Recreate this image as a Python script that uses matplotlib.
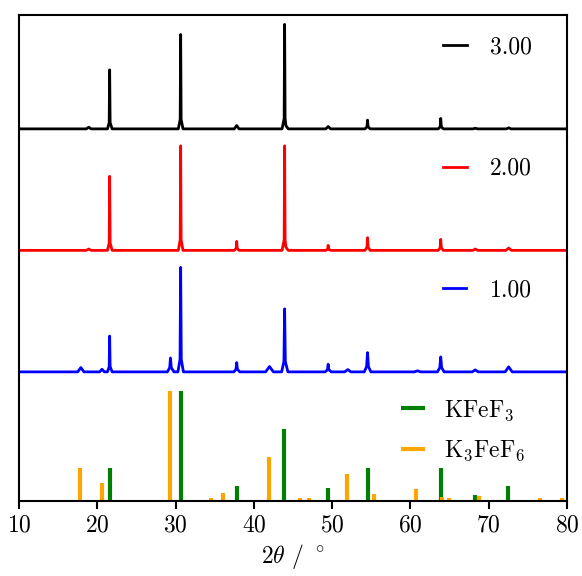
import numpy as np
import matplotlib
matplotlib.use('Agg')
import matplotlib.pyplot as plt

plt.rcParams['font.family'] = 'serif'
plt.rcParams['font.serif'] = ['cmr10']
plt.rcParams['mathtext.fontset'] = 'cm'
plt.rcParams['axes.formatter.use_mathtext'] = True
plt.rcParams['font.size'] = 17

# measured patterns, normalised to the strongest reflection (2theta, I)
pattern_300 = [
    (10.0, 0), (18.6, 0), (18.92, 0.016), (19.2, 0),
    (21.3, 0), (21.52, 0.06), (21.58, 0.565), (21.64, 0.06), (21.9, 0),
    (30.35, 0), (30.59, 0.09), (30.65, 0.903), (30.71, 0.09), (30.95, 0),
    (37.5, 0), (37.81, 0.032), (38.1, 0),
    (43.6, 0), (43.87, 0.1), (43.93, 1.0), (43.99, 0.1), (44.1, 0.03), (44.4, 0),
    (49.2, 0), (49.49, 0.023), (49.8, 0),
    (54.2, 0), (54.45, 0.02), (54.52, 0.084), (54.6, 0.02), (54.85, 0),
    (63.55, 0), (63.8, 0.02), (63.87, 0.1), (63.95, 0.02), (64.2, 0),
    (68.0, 0), (68.28, 0.006), (68.6, 0),
    (72.25, 0), (72.55, 0.01), (72.85, 0),
    (80.0, 0),
]

pattern_200 = [
    (10.0, 0), (18.6, 0), (18.92, 0.013), (19.2, 0),
    (21.3, 0), (21.52, 0.07), (21.58, 0.709), (21.64, 0.07), (21.9, 0),
    (30.35, 0), (30.59, 0.1), (30.65, 1.0), (30.71, 0.1), (30.95, 0),
    (37.5, 0), (37.75, 0.02), (37.81, 0.086), (37.87, 0.02), (38.1, 0),
    (43.6, 0), (43.87, 0.1), (43.93, 1.0), (43.99, 0.1), (44.1, 0.03), (44.4, 0),
    (49.2, 0), (49.43, 0.012), (49.49, 0.048), (49.55, 0.012), (49.8, 0),
    (54.2, 0), (54.45, 0.03), (54.52, 0.121), (54.6, 0.03), (54.85, 0),
    (63.55, 0), (63.8, 0.025), (63.87, 0.105), (63.95, 0.025), (64.2, 0),
    (68.0, 0), (68.28, 0.013), (68.6, 0),
    (72.2, 0), (72.55, 0.022), (72.9, 0),
    (80.0, 0),
]

pattern_100 = [
    (10.0, 0), (17.5, 0), (17.9, 0.041), (18.3, 0),
    (20.3, 0), (20.6, 0.025), (20.9, 0),
    (21.3, 0), (21.52, 0.05), (21.58, 0.343), (21.64, 0.05), (21.9, 0),
    (28.95, 0), (29.25, 0.04), (29.35, 0.133), (29.45, 0.04), (29.8, 0),
    (30.3, 0), (30.57, 0.12), (30.65, 1.0), (30.73, 0.12), (31.0, 0),
    (37.45, 0), (37.72, 0.025), (37.81, 0.089), (37.9, 0.025), (38.2, 0),
    (41.5, 0), (42.0, 0.051), (42.5, 0),
    (43.55, 0), (43.84, 0.1), (43.93, 0.603), (44.02, 0.1), (44.35, 0),
    (49.1, 0), (49.4, 0.02), (49.49, 0.073), (49.58, 0.02), (49.9, 0),
    (51.6, 0), (52.0, 0.022), (52.4, 0),
    (54.1, 0), (54.4, 0.05), (54.52, 0.184), (54.64, 0.05), (54.95, 0),
    (60.5, 0), (60.9, 0.01), (61.3, 0),
    (63.45, 0), (63.75, 0.04), (63.87, 0.143), (63.99, 0.04), (64.3, 0),
    (67.9, 0), (68.28, 0.019), (68.65, 0),
    (72.1, 0), (72.55, 0.048), (73.0, 0),
    (80.0, 0),
]

patterns = [pattern_300, pattern_200, pattern_100]
pattern_labels = ['3.00', '2.00', '1.00']
pattern_colors = ['black', 'red', 'blue']

# reference reflections
kfef3_pos = [21.6, 30.7, 37.8, 43.9, 49.5, 54.6, 63.9, 68.2, 72.5, 76.9]
kfef3_int = [0.30, 1.00, 0.136, 0.648, 0.115, 0.30, 0.30, 0.058, 0.136, 0.012]

k3fef6_pos = [17.8, 20.6, 29.3, 34.5, 36.1, 41.9, 45.9, 47.1, 51.9, 55.4,
              60.7, 64.0, 64.9, 68.8, 76.5, 79.3]
k3fef6_int = [0.30, 0.167, 1.00, 0.024, 0.076, 0.397, 0.024, 0.024, 0.248, 0.067,
              0.106, 0.033, 0.024, 0.048, 0.024, 0.024]

fig = plt.figure(figsize=(5.82, 5.76), dpi=100)
gs = fig.add_gridspec(4, 1, hspace=0, left=19/582, right=567/582,
                      top=1 - 15/576, bottom=1 - 501/576)
axes = [fig.add_subplot(gs[i]) for i in range(4)]

for i, ax in enumerate(axes):
    ax.set_xlim(10, 80)
    ax.set_yticks([])
    for side in ['left', 'right', 'top', 'bottom']:
        ax.spines[side].set_linewidth(1.5)
    if i > 0:
        ax.spines['top'].set_visible(False)
    if i < 3:
        ax.spines['bottom'].set_visible(False)
        ax.set_xticks([])

for ax, pat, lab, col in zip(axes[:3], patterns, pattern_labels, pattern_colors):
    xy = np.array(pat)
    ax.plot(xy[:, 0], xy[:, 1], color=col, lw=2.0, label=lab)
    ax.set_ylim(-0.073, 1.09)
    ax.legend(loc='upper right', frameon=False, handlelength=1.0,
              handletextpad=1.0, bbox_to_anchor=(0.975, 1.0))

ax = axes[3]
ax.vlines(kfef3_pos, 0, kfef3_int, color='green', lw=3, label='KFeF$_3$')
ax.vlines(k3fef6_pos, 0, k3fef6_int, color='orange', lw=3, label='K$_3$FeF$_6$')
ax.set_ylim(0, 1.10)
ax.set_xticks(np.arange(10, 81, 10))
ax.tick_params(axis='x', direction='out', length=6, width=1.5)
ax.set_xlabel(r'$2\theta$ / $^\circ$')
ax.legend(loc='upper right', frameon=False, handlelength=1.0,
          handletextpad=0.8, labelspacing=0.68, bbox_to_anchor=(0.962, 1.02))

fig.savefig('out.png', dpi=100)
